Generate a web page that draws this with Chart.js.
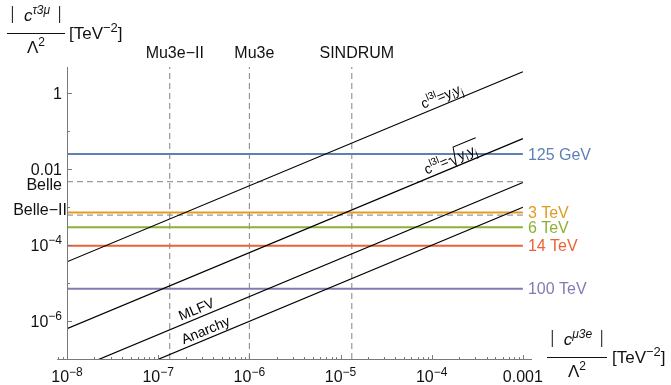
<!DOCTYPE html>
<html><head><meta charset="utf-8">
<script src="https://cdn.jsdelivr.net/npm/chart.js@4.4.1/dist/chart.umd.min.js"></script>
<style>html,body{margin:0;padding:0;background:#fff}</style>
</head><body>
<canvas id="c" width="671" height="385"></canvas>
<script>
// ---- data ----
const scaleNames   = ['125 GeV', '3 TeV', '6 TeV', '14 TeV', '100 TeV'];
const scaleValues  = [0.0245, 7.1e-4, 2.9e-4, 9.5e-5, 7.0e-6];
const scaleColors  = ['#5E81B5', '#E19C24', '#8FB032', '#EB6235', '#8778B3'];
const tauLimitNames  = ['Belle', 'Belle\u2212II'];
const tauLimitValues = [4.6e-3, 6.1e-4];
const muLimitNames   = ['Mu3e\u2212II', 'Mu3e', 'SINDRUM'];
const muLimitValues  = [1.34e-7, 1.0e-6, 1.33e-5];
const relationNames  = ['yiyj', 'sqrt', 'MLFV', 'Anarchy'];
const relationRatios = [3600, 62.5, 4.37, 0.98];   // c_tau / c_mu
const xRange = [1e-8, 1e-3];
const xTicks = [1e-8, 1e-7, 1e-6, 1e-5, 1e-4, 1e-3];
const xTickLabels = ['10^-8', '10^-7', '10^-6', '10^-5', '10^-4', '0.001'];
const yTicks = [1e-6, 1e-4, 1e-2, 1];
const yTickLabels = ['10^-6', '10^-4', '0.01', '1'];

const YMIN = 1e-7, YMAX = Math.pow(10, 0.68), XMAX = Math.pow(10, -2.9);
const FONT = "'Liberation Sans', Arial, sans-serif";
const fnt = (s, it) => (it ? 'italic ' : '') + s + 'px ' + FONT;

const datasets = [];
scaleValues.forEach((v, i) => datasets.push({
  label: scaleNames[i],
  data: [{x: xRange[0], y: v}, {x: xRange[1], y: v}],
  borderColor: scaleColors[i], borderWidth: 2, order: 1
}));
tauLimitValues.forEach((v, i) => datasets.push({
  label: tauLimitNames[i],
  data: [{x: xRange[0], y: v}, {x: xRange[1], y: v}],
  borderColor: '#808080', borderWidth: 1, borderDash: [6, 4], order: 2
}));
muLimitValues.forEach((v, i) => datasets.push({
  label: muLimitNames[i],
  data: [{x: v, y: YMIN}, {x: v, y: YMAX}],
  borderColor: '#808080', borderWidth: 1, borderDash: [6, 4], order: 2
}));
const relStart = datasets.length;
relationRatios.forEach((k, i) => datasets.push({
  label: relationNames[i],
  data: [{x: xRange[0], y: k * xRange[0]}, {x: xRange[1], y: k * xRange[1]}],
  borderColor: '#000', borderWidth: 1.2, order: 0
}));
datasets.forEach(d => { d.showLine = true; d.pointRadius = 0; d.fill = false; });

function runs(ctx, x, y, parts, measureOnly) {
  let x0 = x;
  for (const p of parts) {
    ctx.font = p.f;
    const w = ctx.measureText(p.t).width;
    if (!measureOnly) ctx.fillText(p.t, x0 + (p.dx || 0), y + (p.dy || 0));
    x0 += w + (p.dx || 0) + (p.after || 0);
  }
  return x0 - x;
}
function sciParts(label) {
  if (label.indexOf('^') < 0) return [{t: label, f: fnt(16)}];
  const [b, e] = label.split('^');
  return [{t: b, f: fnt(16)}, {t: e.replace('-', '\u2212'), f: fnt(12), dy: -6.5}];
}

const deco = {
  id: 'deco',
  afterDraw(chart) {
    const ctx = chart.ctx, xs = chart.scales.x, ys = chart.scales.y, a = chart.chartArea;
    ctx.save();
    // axes
    ctx.strokeStyle = '#7a7a7a'; ctx.lineWidth = 1;
    const ax = Math.round(a.left) + 0.5, ay = Math.round(a.bottom) + 0.5;
    ctx.beginPath();
    ctx.moveTo(xs.getPixelForValue(7.8e-9), ay); ctx.lineTo(a.right, ay);
    ctx.moveTo(ax, ay); ctx.lineTo(ax, a.top);
    ctx.stroke();
    // x ticks
    ctx.beginPath();
    for (let d = -9; d <= -3; d++) for (let m = 1; m <= 9; m++) {
      const v = m * Math.pow(10, d);
      if (v < 7.8e-9 || v > XMAX) continue;
      const px = Math.round(xs.getPixelForValue(v)) + 0.5;
      const L = m === 1 ? 4.5 : 2.5;
      ctx.moveTo(px, ay); ctx.lineTo(px, ay - L);
    }
    // y ticks
    for (let e = -7; e <= 0; e++) {
      const py = Math.round(ys.getPixelForValue(Math.pow(10, e))) + 0.5;
      const L = (e % 2 === 0) ? 4.5 : 2.5;
      ctx.moveTo(ax, py); ctx.lineTo(ax + L, py);
    }
    ctx.stroke();

    // tick labels (with real superscripts)
    ctx.fillStyle = '#111'; ctx.textAlign = 'left'; ctx.textBaseline = 'alphabetic';
    xTicks.forEach((v, i) => {
      const parts = sciParts(xTickLabels[i]);
      const w = runs(ctx, 0, 0, parts, true);
      runs(ctx, xs.getPixelForValue(v) - w / 2, a.bottom + 23, parts);
    });
    yTicks.forEach((v, i) => {
      const parts = sciParts(yTickLabels[i]);
      const w = runs(ctx, 0, 0, parts, true);
      runs(ctx, a.left - 5 - w, ys.getPixelForValue(v) + 6, parts);
    });

    // right-hand scale labels
    ctx.textAlign = 'left'; ctx.textBaseline = 'middle';
    scaleValues.forEach((v, i) => {
      ctx.font = fnt(16); ctx.fillStyle = scaleColors[i];
      ctx.fillText(scaleNames[i], xs.getPixelForValue(xRange[1]) + 5, ys.getPixelForValue(v) + 1);
    });
    // tau limits on left
    ctx.fillStyle = '#111'; ctx.font = fnt(16); ctx.textAlign = 'right'; ctx.textBaseline = 'middle';
    ctx.fillText(tauLimitNames[0], a.left - 5, ys.getPixelForValue(tauLimitValues[0]) + 4);
    ctx.fillText(tauLimitNames[1], a.left, ys.getPixelForValue(tauLimitValues[1]) - 4);
    // mu limits on top
    ctx.textAlign = 'center'; ctx.textBaseline = 'alphabetic';
    muLimitValues.forEach((v, i) => ctx.fillText(muLimitNames[i], xs.getPixelForValue(v) + 5, 58));

    // relation labels along the diagonals
    const labelAt = [1.4e-4, 1.8e-4, 2.86e-7, 3.6e-7];
    const labelParts = [
      [{t: 'c', f: fnt(14)}, {t: 'l3l', f: fnt(10), dy: -6}, {t: '=y', f: fnt(14)}, {t: 'i', f: fnt(10), dy: 3}, {t: 'y', f: fnt(14)}, {t: 'j', f: fnt(10), dy: 3}],
      [{t: 'c', f: fnt(14)}, {t: 'l3l', f: fnt(10), dy: -6}, {t: '=', f: fnt(14), after: 11}, {t: 'y', f: fnt(14)}, {t: 'i', f: fnt(10), dy: 3, after: 1}, {t: 'y', f: fnt(14)}, {t: 'j', f: fnt(10), dy: 3, after: 3}],
      [{t: 'MLFV', f: fnt(14)}],
      [{t: 'Anarchy', f: fnt(14)}]
    ];
    relationRatios.forEach((k, i) => {
      const meta = chart.getDatasetMeta(relStart + i);
      const p0 = meta.data[0], p1 = meta.data[1];
      const ang = Math.atan2(p1.y - p0.y, p1.x - p0.x);
      const x = labelAt[i], px = xs.getPixelForValue(x), py = ys.getPixelForValue(k * x);
      ctx.save();
      ctx.translate(px, py); ctx.rotate(ang);
      ctx.fillStyle = '#000'; ctx.textAlign = 'left'; ctx.textBaseline = 'alphabetic';
      const w = runs(ctx, 0, 0, labelParts[i], true);
      const base = -4;
      runs(ctx, -w / 2, base, labelParts[i]);
      if (i === 1) {
        let sx = -w / 2;
        ctx.font = fnt(14); sx += ctx.measureText('c').width;
        ctx.font = fnt(10); sx += ctx.measureText('l3l').width;
        ctx.font = fnt(14); sx += ctx.measureText('=').width + 1;
        const endx = w / 2 + 1;
        ctx.strokeStyle = '#000'; ctx.lineWidth = 1;
        ctx.beginPath();
        ctx.moveTo(sx, base - 5); ctx.lineTo(sx + 2, base - 6);
        ctx.lineTo(sx + 5, base + 3); ctx.lineTo(sx + 9, base - 15);
        ctx.lineTo(endx, base - 15);
        ctx.stroke();
      }
      ctx.restore();
    });

    // axis titles
    ctx.fillStyle = '#111'; ctx.textAlign = 'left'; ctx.textBaseline = 'alphabetic';
    function fracTitle(barL, barR, barY, numSup, rightX) {
      const cx = (barL + barR) / 2;
      ctx.strokeStyle = '#111'; ctx.lineWidth = 1;
      ctx.beginPath(); ctx.moveTo(barL, barY + 0.5); ctx.lineTo(barR, barY + 0.5); ctx.stroke();
      const nb = barY - 12;
      const parts = [{t: 'c', f: fnt(17, true)}, {t: numSup, f: fnt(12, true), dy: -7}];
      const w = runs(ctx, 0, 0, parts, true);
      runs(ctx, cx - w / 2 + 1, nb, parts);
      ctx.beginPath();
      ctx.moveTo(cx - w / 2 - 10.5, nb - 15); ctx.lineTo(cx - w / 2 - 10.5, nb + 2);
      ctx.moveTo(cx + w / 2 + 10.5, nb - 15); ctx.lineTo(cx + w / 2 + 10.5, nb + 2);
      ctx.stroke();
      const dparts = [{t: '\u039B', f: fnt(17)}, {t: '2', f: fnt(12), dy: -7}];
      const dw = runs(ctx, 0, 0, dparts, true);
      runs(ctx, cx - dw / 2, barY + 20, dparts);
      runs(ctx, rightX, barY + 6, [{t: '[TeV', f: fnt(17)}, {t: '\u22122', f: fnt(13), dy: -7}, {t: ']', f: fnt(17)}]);
    }
    fracTitle(7, 65, 33, '\u03C43\u03BC', 69);
    fracTitle(547, 607, 357, '\u03BC3e', 612);
    ctx.restore();
  }
};

new Chart(document.getElementById('c'), {
  type: 'scatter',
  data: { datasets },
  plugins: [deco],
  options: {
    responsive: false, animation: false,
    layout: { padding: { left: 0, top: 67, right: 139, bottom: 0 } },
    plugins: { legend: { display: false }, tooltip: { enabled: false } },
    elements: { line: { tension: 0 } },
    scales: {
      x: {
        type: 'logarithmic', min: xRange[0], max: XMAX,
        grid: { display: false, drawTicks: false }, border: { display: false },
        afterBuildTicks: s => { s.ticks = xTicks.map(v => ({ value: v })); },
        afterFit: s => { s.height = 26; },
        ticks: { display: false }
      },
      y: {
        type: 'logarithmic', min: YMIN, max: YMAX,
        grid: { display: false, drawTicks: false }, border: { display: false },
        afterBuildTicks: s => { s.ticks = yTicks.map(v => ({ value: v })); },
        afterFit: s => { s.width = 67; },
        ticks: { display: false }
      }
    }
  }
});
</script>
</body></html>
